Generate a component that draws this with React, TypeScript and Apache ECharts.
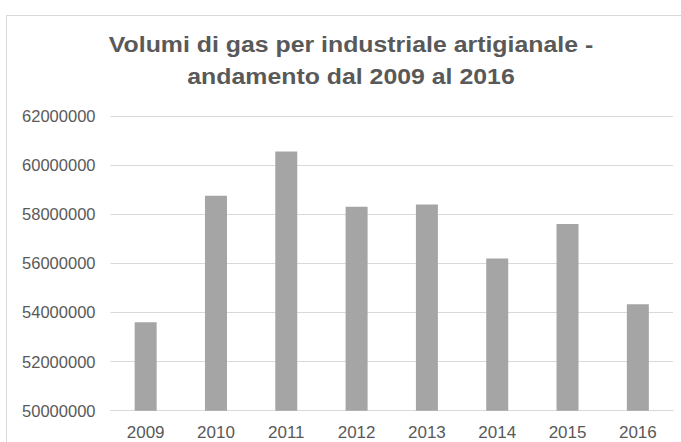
import React, { useEffect, useRef } from "react";
import * as echarts from "echarts";

const years = ["2009", "2010", "2011", "2012", "2013", "2014", "2015", "2016"];
const volumes = [53600000, 58750000, 60550000, 58300000, 58400000, 56200000, 57600000, 54330000];
const titleLines = ["Volumi di gas per industriale artigianale -", "andamento dal 2009 al 2016"];
const yMin = 50000000;
const yMax = 62000000;
const yStep = 2000000;

export default function App() {
  const ref = useRef<HTMLDivElement>(null);
  useEffect(() => {
    if (!ref.current) return;
    const chart = echarts.init(ref.current, undefined, { renderer: "svg" });
    const font = "'Liberation Sans', Arial, sans-serif";
    const titleText = (text: string, y: number) => ({
      type: "text",
      x: 351,
      y,
      scaleX: 1.13,
      style: {
        text,
        x: 0,
        y: 0,
        align: "center",
        verticalAlign: "middle",
        fontFamily: font,
        fontSize: 22,
        fontWeight: "bold",
        fill: "#595959",
      },
    });
    chart.setOption({
      animation: false,
      backgroundColor: "#ffffff",
      textStyle: { fontFamily: font },
      graphic: [
        {
          type: "rect",
          shape: { x: 6.5, y: 15.5, width: 720, height: 520 },
          style: { fill: "none", stroke: "#d9d9d9", lineWidth: 1 },
          silent: true,
        },
        titleText(titleLines[0], 45),
        titleText(titleLines[1], 76.5),
      ],
      grid: { left: 110.5, right: 8, top: 116, bottom: 31.3, containLabel: false },
      xAxis: {
        type: "category",
        data: years,
        axisLine: { show: true, lineStyle: { color: "#d9d9d9", width: 1 } },
        axisTick: { show: false },
        axisLabel: { color: "#595959", fontSize: 17, margin: 13, fontFamily: font },
      },
      yAxis: {
        type: "value",
        min: yMin,
        max: yMax,
        interval: yStep,
        axisLine: { show: false },
        axisTick: { show: false },
        splitLine: { show: true, lineStyle: { color: "#d9d9d9", width: 1 } },
        axisLabel: {
          color: "#595959",
          fontSize: 16.5,
          margin: 15,
          fontFamily: font,
          formatter: (v: number) => String(v),
        },
      },
      series: [
        {
          type: "bar",
          data: volumes,
          barWidth: 22,
          itemStyle: { color: "#a5a5a5" },
        },
      ],
    });
    return () => chart.dispose();
  }, []);
  return (
    <div
      ref={ref}
      style={{ position: "fixed", left: 0, top: 0, width: 681, height: 442 }}
    />
  );
}
